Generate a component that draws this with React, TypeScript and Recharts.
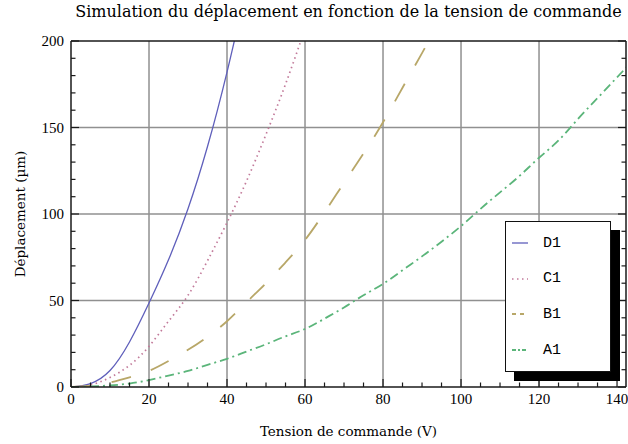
import { LineChart, Line, XAxis, YAxis, CartesianGrid, Legend } from "recharts";

// tension de commande (V)
const volts = [0, 5, 10, 15, 20, 25, 30, 35, 40, 45, 50, 55, 60, 65, 70, 75, 80, 85, 90, 95, 100, 105, 110, 115, 120, 125, 130, 135, 140, 145];

// déplacement (µm)
const d1Values = [0, 2, 9.5, 26, 48.5, 73.5, 103, 139, 182, 231];
const c1Values = [0, 1.2, 5.5, 12.5, 23.5, 38, 53, 73, 95, 119, 146, 175, 207];
const b1Values = [0, 0.6, 2.6, 5.6, 9.3, 15, 21.5, 29, 38, 49, 60, 72, 85, 101, 118, 135, 153, 173, 193, 214];
const a1Values = [0, 0.3, 0.9, 2, 4, 6.6, 9.3, 12.8, 16.3, 20.5, 24.7, 29.3, 33.5, 39.5, 46, 53, 59.6, 67.5, 75.5, 84, 93, 103, 112.5, 122, 132.5, 142.5, 155, 167, 179, 191];

const xLabels = [0, 20, 40, 60, 80, 100, 120, 140];
const yLabels = [0, 50, 100, 150, 200];
const xGrid = [20, 40, 60, 80, 100, 120];
const yGrid = [50, 100, 150];

const X_MAX = 142.3;
const xTicks = Array.from({ length: 29 }, (_, i) => i * 5);
const yTicks = Array.from({ length: 21 }, (_, i) => i * 10);

const series = [
  { name: "D1", values: d1Values, color: "#5f5fbb", dash: undefined, width: 1.3 },
  { name: "C1", values: c1Values, color: "#c27a9a", dash: "1.5 3.5", width: 1.7 },
  { name: "B1", values: b1Values, color: "#b8a768", dash: "20 21", width: 1.8 },
  { name: "A1", values: a1Values, color: "#5bb57a", dash: "9 4 2 4", width: 1.8 },
];

const toPoints = (values: number[]) => values.map((y, i) => ({ v: volts[i], y }));

const serif = "'Liberation Serif', serif";
const frame = { stroke: "#1a1a1a", strokeWidth: 1.5 };

const BottomTick = ({ x, y, payload }: any) => {
  const major = xLabels.includes(payload.value);
  return (
    <g>
      <line x1={x} y1={y} x2={x} y2={y - (major ? 8 : 4.5)} stroke="#1a1a1a" strokeWidth={1.2} />
      {major && (
        <text x={x} y={y + 17} textAnchor="middle" fontFamily={serif} fontSize={15} fill="#000">
          {payload.value}
        </text>
      )}
    </g>
  );
};

const TopTick = ({ x, y, payload }: any) => {
  const major = xLabels.includes(payload.value);
  return <line x1={x} y1={y} x2={x} y2={y + (major ? 8 : 4.5)} stroke="#1a1a1a" strokeWidth={1.2} />;
};

const LeftTick = ({ x, y, payload }: any) => {
  const major = yLabels.includes(payload.value);
  return (
    <g>
      <line x1={x} y1={y} x2={x + (major ? 8 : 4.5)} y2={y} stroke="#1a1a1a" strokeWidth={1.2} />
      {major && (
        <text x={x - 7} y={y + 5} textAnchor="end" fontFamily={serif} fontSize={15} fill="#000">
          {payload.value}
        </text>
      )}
    </g>
  );
};

const RightTick = ({ x, y, payload }: any) => {
  const major = yLabels.includes(payload.value);
  return <line x1={x} y1={y} x2={x - (major ? 8 : 4.5)} y2={y} stroke="#1a1a1a" strokeWidth={1.2} />;
};

const renderLegend = ({ payload }: any) => {
  const items = [...(payload ?? [])].sort(
    (a: any, b: any) => series.findIndex((s) => s.name === a.value) - series.findIndex((s) => s.name === b.value)
  );
  return (
    <div
      style={{
        position: "relative",
        width: 106,
        height: 151,
        boxSizing: "border-box",
        border: "1.5px solid #111",
        background: "#fff",
        boxShadow: "9px 9px 0 #000",
      }}
    >
      {items.map((entry: any, i: number) => {
        const s = series.find((d) => d.name === entry.value)!;
        return (
          <div key={s.name} style={{ position: "absolute", left: 5, top: 12 + i * 35.7, height: 18, display: "flex", alignItems: "center" }}>
            <svg width={18} height={18}>
              <line x1={1} y1={9} x2={17} y2={9} stroke={s.color} strokeWidth={s.width} strokeDasharray={s.name === "B1" ? "4 4" : s.name === "A1" ? "4 2 2 2" : s.dash} />
            </svg>
            <span style={{ marginLeft: 14, fontFamily: "'Liberation Mono', monospace", fontSize: 15, color: "#000" }}>{s.name}</span>
          </div>
        );
      })}
    </div>
  );
};

export default function App() {
  return (
    <div style={{ position: "relative", width: 628, height: 444, background: "#fff", fontFamily: serif }}>
      <style>{"body{margin:0}"}</style>
      <div
        style={{
          position: "absolute",
          left: 71,
          width: 555,
          top: 2,
          textAlign: "center",
          fontFamily: "'DejaVu Serif', serif",
          fontSize: 16,
          color: "#000",
          whiteSpace: "nowrap",
        }}
      >
        Simulation du déplacement en fonction de la tension de commande
      </div>
      <LineChart width={628} height={444} margin={{ top: 40, right: 1, bottom: 27, left: 31 }}>
        <CartesianGrid stroke="#909090" strokeWidth={1.5} verticalValues={xGrid} horizontalValues={yGrid} />
        <XAxis
          type="number"
          dataKey="v"
          domain={[0, X_MAX]}
          allowDataOverflow
          ticks={xTicks}
          interval={0}
          height={30}
          tickSize={0}
          tickMargin={0}
          tickLine={false}
          axisLine={frame}
          tick={BottomTick}
        />
        <XAxis
          xAxisId="top"
          orientation="top"
          type="number"
          domain={[0, X_MAX]}
          allowDataOverflow
          ticks={xTicks}
          interval={0}
          height={1}
          tickSize={0}
          tickMargin={0}
          tickLine={false}
          axisLine={frame}
          tick={TopTick}
        />
        <YAxis
          type="number"
          domain={[0, 200]}
          allowDataOverflow
          ticks={yTicks}
          interval={0}
          width={40}
          tickSize={0}
          tickMargin={0}
          tickLine={false}
          axisLine={frame}
          tick={LeftTick}
        />
        <YAxis
          yAxisId="right"
          orientation="right"
          type="number"
          domain={[0, 200]}
          allowDataOverflow
          ticks={yTicks}
          interval={0}
          width={1}
          tickSize={0}
          tickMargin={0}
          tickLine={false}
          axisLine={frame}
          tick={RightTick}
        />
        {series.map((s) => (
          <Line
            key={s.name}
            name={s.name}
            data={toPoints(s.values)}
            dataKey="y"
            type="natural"
            stroke={s.color}
            strokeWidth={s.width}
            strokeDasharray={s.dash}
            dot={false}
            activeDot={false}
            isAnimationActive={false}
          />
        ))}
        <Legend
          layout="horizontal"
          verticalAlign="middle"
          align="center"
          content={renderLegend}
          wrapperStyle={{ position: "absolute", left: 505, top: 221, width: 106, height: 151 }}
        />
      </LineChart>
      <div
        style={{
          position: "absolute",
          left: 71,
          width: 555,
          top: 423,
          textAlign: "center",
          fontFamily: "'DejaVu Serif', serif",
          fontSize: 13.5,
          color: "#000",
          whiteSpace: "nowrap",
        }}
      >
        Tension de commande (V)
      </div>
      <div
        style={{
          position: "absolute",
          left: 20,
          top: 214,
          transform: "translate(-50%, -50%) rotate(-90deg)",
          fontFamily: "'DejaVu Serif', serif",
          fontSize: 13.5,
          color: "#000",
          whiteSpace: "nowrap",
        }}
      >
        Déplacement (µm)
      </div>
    </div>
  );
}
